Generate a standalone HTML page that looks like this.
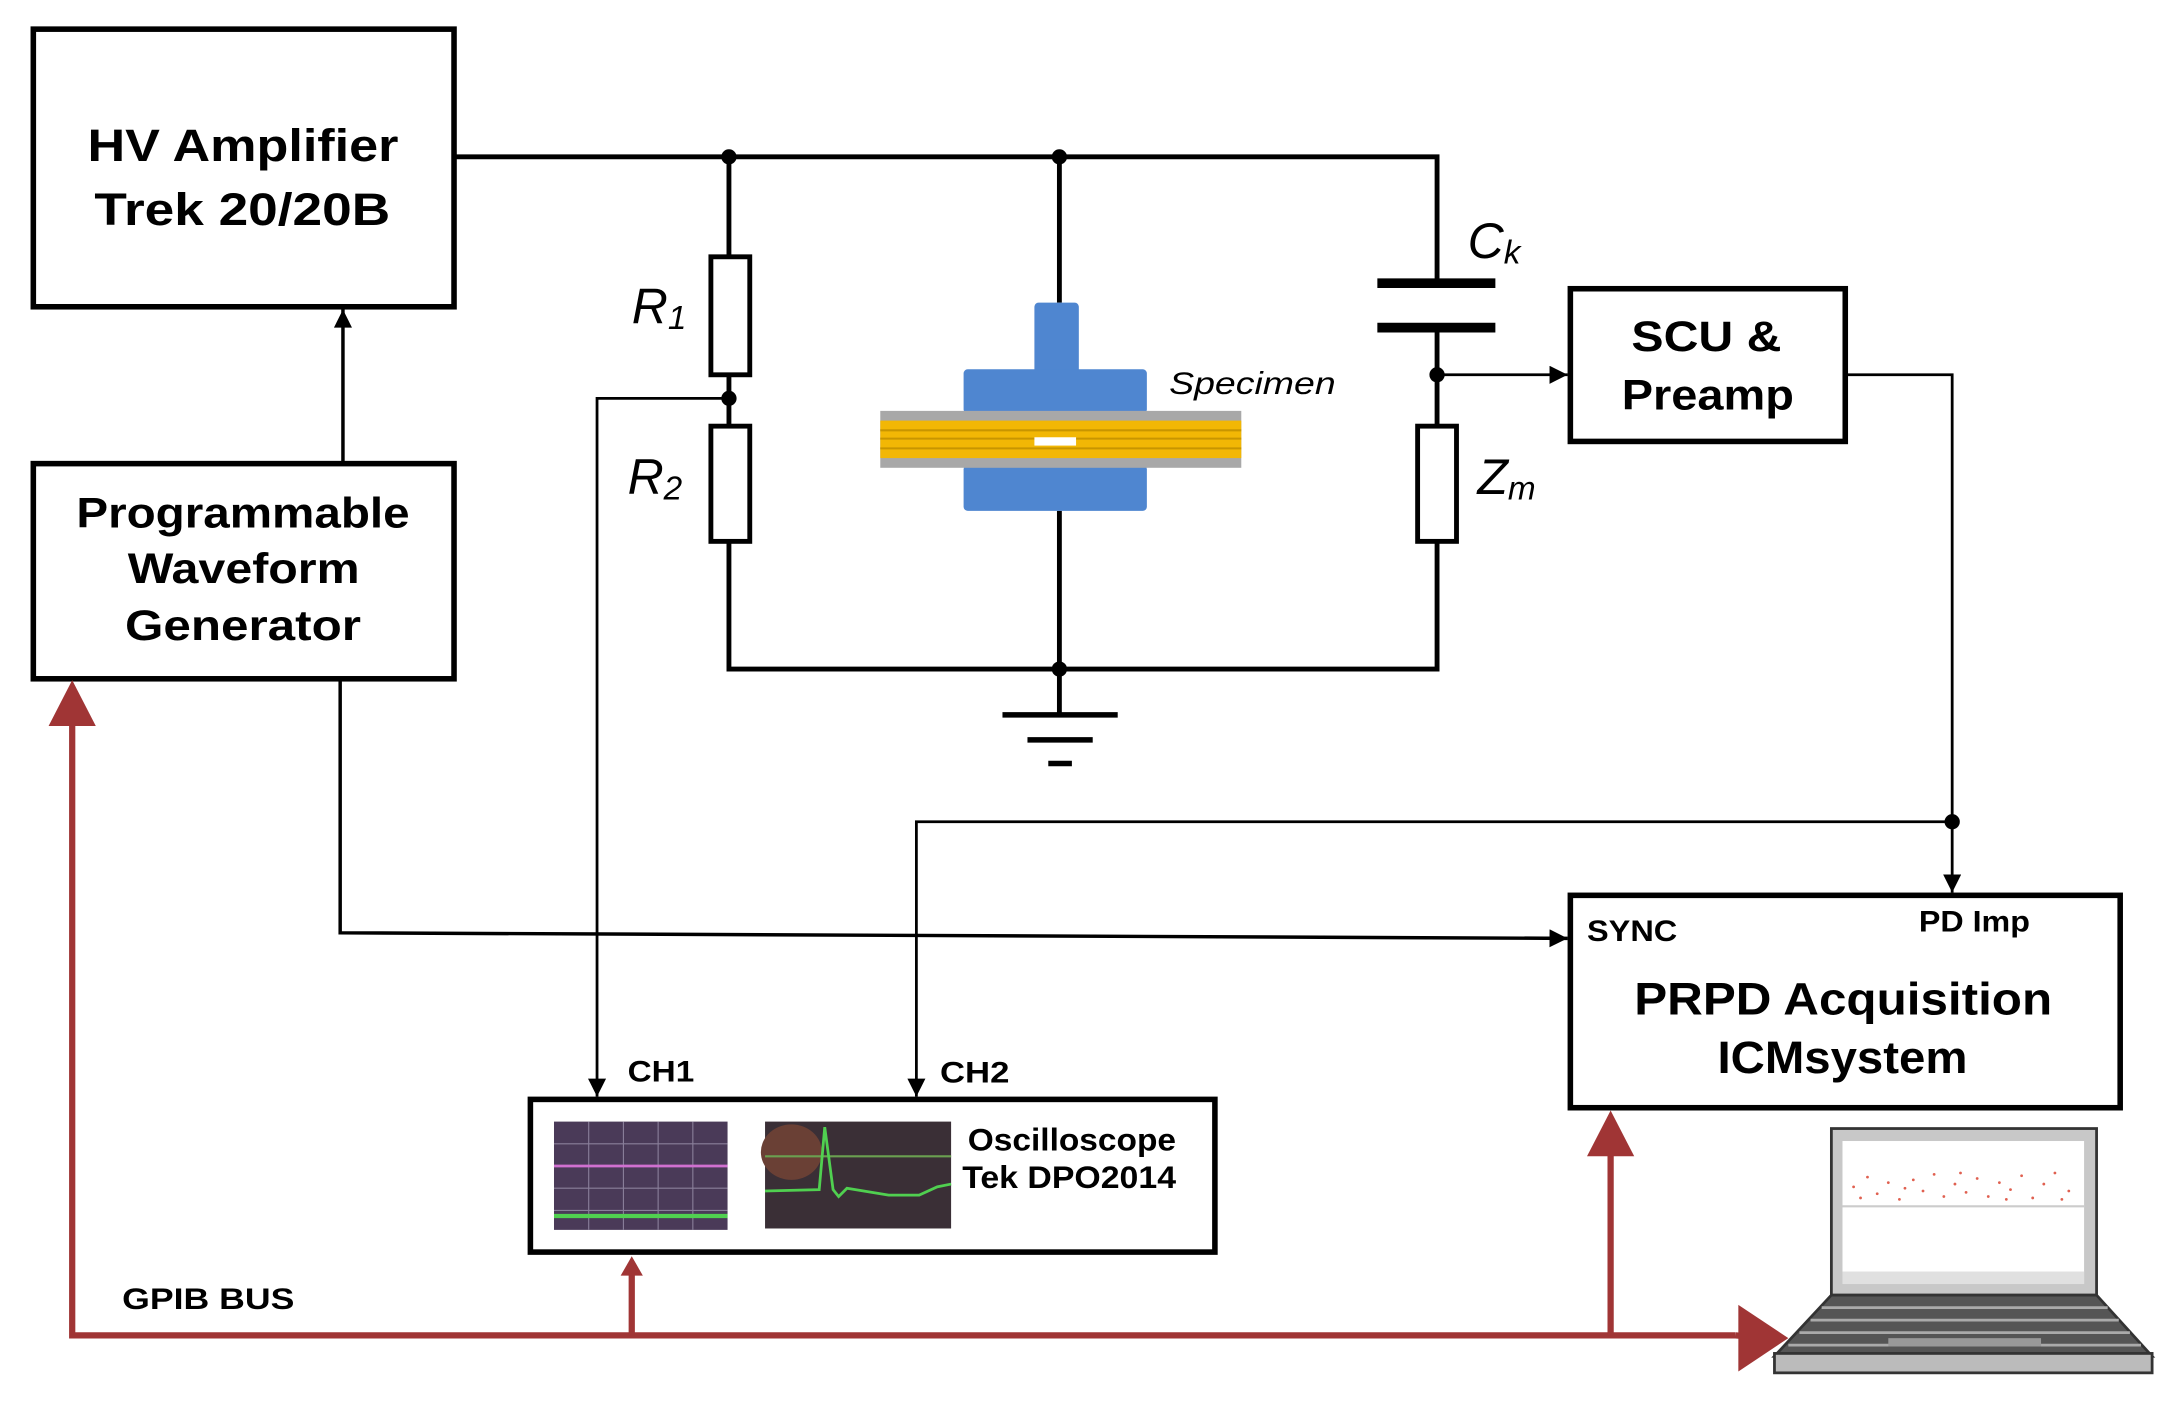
<!DOCTYPE html>
<html><head><meta charset="utf-8"><style>
html,body{margin:0;padding:0;background:#fff;}
svg{display:block;}
text{font-family:"Liberation Sans",Arial,sans-serif;}
</style></head><body>
<svg width="2166" height="1402" viewBox="0 0 1560 1010" preserveAspectRatio="none" xmlns="http://www.w3.org/2000/svg">
<defs>
<marker id="ak" viewBox="0 0 10 10" refX="10" refY="5" markerWidth="16" markerHeight="13" orient="auto" markerUnits="userSpaceOnUse"><path d="M0,0 L10,5 L0,10z" fill="#000"/></marker>
</defs>
<rect width="1560" height="1010" fill="#fff"/>
<g stroke="#000" fill="none">
<rect x="24" y="21" width="303" height="200" stroke-width="4"/>
<rect x="24" y="334" width="303" height="155" stroke-width="4"/>
<rect x="1131" y="208" width="198" height="110" stroke-width="4"/>
<rect x="1131" y="645" width="396" height="153" stroke-width="4"/>
<rect x="382" y="792" width="493" height="110" stroke-width="4"/>
<polyline points="327,113 1035,113 1035,203" stroke-width="3.5"/>
<line x1="525" y1="113" x2="525" y2="185" stroke-width="3.5"/>
<rect x="512" y="185" width="28" height="85" fill="#fff" stroke-width="3.5"/>
<line x1="525" y1="270" x2="525" y2="307" stroke-width="3.5"/>
<rect x="512" y="307" width="28" height="83" fill="#fff" stroke-width="3.5"/>
<polyline points="525,390 525,482 1035,482 1035,390" stroke-width="3.5"/>
<line x1="763" y1="113" x2="763" y2="218" stroke-width="3.5"/>
<line x1="763" y1="368" x2="763" y2="515" stroke-width="3.5"/>
<line x1="722" y1="515" x2="805" y2="515" stroke-width="4"/>
<line x1="740" y1="533" x2="787" y2="533" stroke-width="4"/>
<line x1="755" y1="550" x2="772" y2="550" stroke-width="4"/>
<line x1="992" y1="204" x2="1077" y2="204" stroke-width="7"/>
<line x1="992" y1="236" x2="1077" y2="236" stroke-width="7"/>
<line x1="1035" y1="236" x2="1035" y2="307" stroke-width="3.5"/>
<rect x="1021" y="307" width="28" height="83" fill="#fff" stroke-width="3.5"/>
<line x1="1035" y1="270" x2="1129" y2="270" stroke-width="2" marker-end="url(#ak)"/>
<polyline points="1329,270 1406,270 1406,643" stroke-width="2" marker-end="url(#ak)"/>
<polyline points="1406,592 660,592 660,790" stroke-width="2" marker-end="url(#ak)"/>
<polyline points="525,287 430,287 430,790" stroke-width="2" marker-end="url(#ak)"/>
<line x1="247" y1="334" x2="247" y2="223" stroke-width="2.5" marker-end="url(#ak)"/>
<polyline points="245,489 245,672 1129,676" stroke-width="2.5" marker-end="url(#ak)"/>
</g>
<g fill="#000">
<circle cx="525" cy="113" r="5.5"/><circle cx="763" cy="113" r="5.5"/>
<circle cx="525" cy="287" r="5.5"/><circle cx="763" cy="482" r="5.5"/>
<circle cx="1035" cy="270" r="5.5"/><circle cx="1406" cy="592" r="5.5"/>
</g>
<rect x="745" y="218" width="32" height="52" rx="3" fill="#4f86d0"/>
<rect x="694" y="266" width="132" height="32" rx="3" fill="#4f86d0"/>
<rect x="694" y="335" width="132" height="33" rx="3" fill="#4f86d0"/>
<rect x="634" y="296" width="260" height="41" fill="#a8a8a8"/>
<rect x="634" y="303" width="260" height="27" fill="#f2b705"/>
<line x1="634" y1="310" x2="894" y2="310" stroke="#c89500" stroke-width="1.5"/>
<line x1="634" y1="316" x2="894" y2="316" stroke="#c89500" stroke-width="1.5"/>
<line x1="634" y1="323" x2="894" y2="323" stroke="#c89500" stroke-width="1.5"/>
<rect x="745" y="315" width="30" height="6" fill="#fff"/>
<g font-weight="bold" fill="#000" lengthAdjust="spacingAndGlyphs">
<text x="63" y="116" font-size="33" textLength="224" lengthAdjust="spacingAndGlyphs">HV Amplifier</text>
<text x="68" y="162" font-size="33" textLength="213" lengthAdjust="spacingAndGlyphs">Trek 20/20B</text>
<text x="55" y="380" font-size="31" textLength="240" lengthAdjust="spacingAndGlyphs">Programmable</text>
<text x="92" y="420" font-size="31" textLength="167" lengthAdjust="spacingAndGlyphs">Waveform</text>
<text x="90" y="461" font-size="31" textLength="170" lengthAdjust="spacingAndGlyphs">Generator</text>
<text x="1175" y="253" font-size="31" textLength="108" lengthAdjust="spacingAndGlyphs">SCU &amp;</text>
<text x="1168" y="295" font-size="31" textLength="124" lengthAdjust="spacingAndGlyphs">Preamp</text>
<text x="1177" y="731" font-size="33" textLength="301" lengthAdjust="spacingAndGlyphs">PRPD Acquisition</text>
<text x="1237" y="773" font-size="33" textLength="180" lengthAdjust="spacingAndGlyphs">ICMsystem</text>
<text x="1143" y="678" font-size="21" textLength="65" lengthAdjust="spacingAndGlyphs">SYNC</text>
<text x="1382" y="671" font-size="21" textLength="80" lengthAdjust="spacingAndGlyphs">PD Imp</text>
<text x="452" y="779" font-size="21" textLength="48" lengthAdjust="spacingAndGlyphs">CH1</text>
<text x="677" y="780" font-size="21" textLength="50" lengthAdjust="spacingAndGlyphs">CH2</text>
<text x="88" y="943" font-size="21" textLength="124" lengthAdjust="spacingAndGlyphs">GPIB  BUS</text>
<text x="697" y="829" font-size="23" textLength="150" lengthAdjust="spacingAndGlyphs">Oscilloscope</text>
<text x="693" y="856" font-size="23" textLength="154" lengthAdjust="spacingAndGlyphs">Tek DPO2014</text>
</g>
<g font-style="italic" fill="#000">
<text x="455" y="233" font-size="36">R<tspan font-size="24" dy="4">1</tspan></text>
<text x="452" y="356" font-size="36">R<tspan font-size="24" dy="4">2</tspan></text>
<text x="1057" y="186" font-size="36">C<tspan font-size="24" dy="4">k</tspan></text>
<text x="1064" y="356" font-size="36">Z<tspan font-size="24" dy="4">m</tspan></text>
<text x="842" y="284" font-size="23" textLength="120" lengthAdjust="spacingAndGlyphs">Specimen</text>
</g>
<rect x="399" y="808" width="125" height="78" fill="#4a3a58"/>
<g stroke="#8a7f9a" stroke-width="0.8">
<line x1="399" y1="824" x2="524" y2="824"/><line x1="399" y1="840" x2="524" y2="840"/><line x1="399" y1="856" x2="524" y2="856"/><line x1="399" y1="872" x2="524" y2="872"/>
<line x1="424" y1="808" x2="424" y2="886"/><line x1="449" y1="808" x2="449" y2="886"/><line x1="474" y1="808" x2="474" y2="886"/><line x1="499" y1="808" x2="499" y2="886"/>
</g>
<line x1="399" y1="840" x2="524" y2="840" stroke="#d070d0" stroke-width="2"/>
<line x1="399" y1="876" x2="524" y2="876" stroke="#50d050" stroke-width="3"/>
<rect x="551" y="808" width="134" height="77" fill="#3a2f36"/>
<ellipse cx="570" cy="830" rx="22" ry="20" fill="#6a4035"/>
<line x1="551" y1="833" x2="685" y2="833" stroke="#6aa050" stroke-width="1.5"/>
<polyline points="551,858 590,857 594,812 600,857 604,862 610,856 640,861 662,861 675,855 685,853" fill="none" stroke="#50d050" stroke-width="2"/>
<g stroke="#a03535" stroke-width="4.5" fill="none">
<polyline points="52,520 52,962 1250,962"/>
<line x1="1250" y1="962" x2="1262" y2="963"/>
<line x1="455" y1="962" x2="455" y2="918"/>
<line x1="1160" y1="962" x2="1160" y2="828"/>
</g>
<g fill="#a03535">
<path d="M52,490 L35,523 L69,523z"/>
<path d="M455,905 L447,919 L463,919z"/>
<path d="M1160,800 L1143,833 L1177,833z"/>
<path d="M1288,964 L1252,940 L1252,988z"/>
</g>
<rect x="1319" y="813" width="191" height="120" fill="#c8c8c8" stroke="#333" stroke-width="2"/>
<rect x="1327" y="822" width="174" height="103" fill="#fff"/>
<rect x="1327" y="916" width="174" height="9" fill="#e0e0e0"/>
<line x1="1327" y1="869" x2="1501" y2="869" stroke="#ccc" stroke-width="1.5"/>
<g fill="#e06050">
<circle cx="1335" cy="855" r="1"/><circle cx="1345" cy="848" r="1"/><circle cx="1352" cy="860" r="1"/><circle cx="1360" cy="852" r="1"/><circle cx="1368" cy="864" r="1"/><circle cx="1378" cy="850" r="1"/><circle cx="1385" cy="858" r="1"/><circle cx="1393" cy="846" r="1"/><circle cx="1400" cy="862" r="1"/><circle cx="1408" cy="853" r="1"/><circle cx="1416" cy="859" r="1"/><circle cx="1424" cy="849" r="1"/><circle cx="1432" cy="862" r="1"/><circle cx="1440" cy="852" r="1"/><circle cx="1448" cy="857" r="1"/><circle cx="1456" cy="847" r="1"/><circle cx="1464" cy="863" r="1"/><circle cx="1472" cy="853" r="1"/><circle cx="1480" cy="845" r="1"/><circle cx="1490" cy="858" r="1"/><circle cx="1340" cy="863" r="1"/><circle cx="1372" cy="856" r="1"/><circle cx="1412" cy="845" r="1"/><circle cx="1445" cy="864" r="1"/><circle cx="1485" cy="864" r="1"/>
</g>
<path d="M1319,933 L1510,933 L1550,977 L1278,977z" fill="#555" stroke="#333" stroke-width="2"/>
<g stroke="#aaa" stroke-width="2"><line x1="1312" y1="942" x2="1518" y2="942"/><line x1="1304" y1="951" x2="1526" y2="951"/><line x1="1296" y1="960" x2="1534" y2="960"/><line x1="1288" y1="969" x2="1542" y2="969"/></g>
<rect x="1360" y="964" width="110" height="6" fill="#999"/>
<rect x="1278" y="975" width="272" height="14" fill="#bbb" stroke="#333" stroke-width="2"/>
</svg>
</body></html>
